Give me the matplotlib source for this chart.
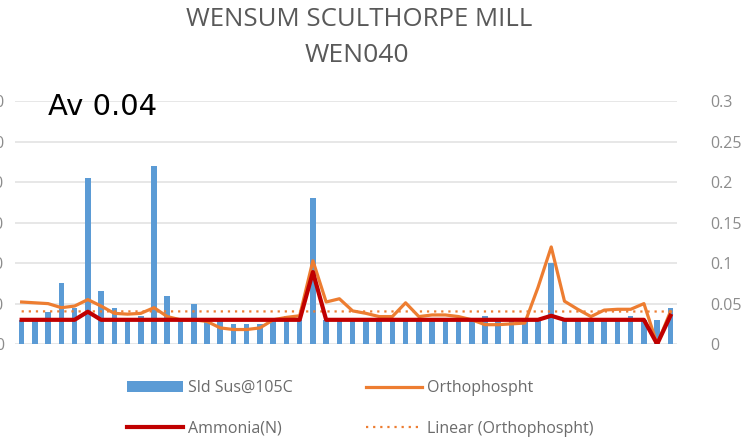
import numpy as np
import matplotlib
matplotlib.use('Agg')
import matplotlib.pyplot as plt

# sample index along the x axis (50 samples, no labels shown)
samples = np.arange(50)

# suspended solids @105C (left axis, mg/l)
sld_sus = [6, 6, 8, 15, 9, 41, 13, 9, 6, 7, 44, 12, 6, 10, 6, 6, 5, 5, 5, 6,
           7, 6, 36, 6, 6, 6, 6, 6, 6, 6, 6, 6, 6, 6, 6, 7, 6, 6, 6, 6,
           20, 6, 6, 6, 6, 6, 7, 6, 6, 9]

# orthophosphate (right axis, mg/l)
ortho = [0.052, 0.051, 0.050, 0.045, 0.047, 0.055, 0.047, 0.038, 0.037, 0.038,
         0.045, 0.034, 0.030, 0.030, 0.028, 0.020, 0.018, 0.018, 0.020, 0.030,
         0.033, 0.035, 0.103, 0.052, 0.056, 0.041, 0.038, 0.034, 0.034, 0.051,
         0.034, 0.036, 0.036, 0.034, 0.030, 0.024, 0.024, 0.025, 0.026, 0.070,
         0.120, 0.053, 0.043, 0.034, 0.042, 0.043, 0.043, 0.050, 0.0, 0.040]

# ammonia as N (right axis, mg/l)
ammonia = [0.03] * 50
ammonia[5] = 0.04
ammonia[22] = 0.089
ammonia[40] = 0.035
ammonia[48] = 0.0
ammonia[49] = 0.035

left_ticks = [0, 10, 20, 30, 40, 50, 60]
right_ticks = [0, 0.05, 0.1, 0.15, 0.2, 0.25, 0.3]
right_labels = ['0', '0.05', '0.1', '0.15', '0.2', '0.25', '0.3']

plt.rcParams['font.family'] = ['Open Sans', 'DejaVu Sans']

fig = plt.figure(figsize=(7.43, 4.44), dpi=100)
ax = fig.add_axes([0.0202, 0.225, 0.891, 0.547])
ax2 = ax.twinx()

ax.bar(samples, sld_sus, width=0.42, color='#5B9BD5', label='Sld Sus@105C', zorder=2)
ax.set_ylim(0, 60)
ax.set_yticks(left_ticks)
ax.set_xlim(-0.5, 49.5)
ax.set_xticks([])
ax.yaxis.grid(True, color='#E3E3E3', linewidth=1.2, zorder=0)
ax.set_axisbelow(True)
# left labels sit mostly outside the picture, as in the original crop
ax.tick_params(axis='y', length=0, pad=8, labelcolor='#8c8c8c', labelsize=11.5)

ax2.plot(samples, ortho, color='#ED7D31', linewidth=2.3, label='Orthophospht', zorder=3)
ax2.plot(samples, ammonia, color='#C00000', linewidth=3.0, label='Ammonia(N)', zorder=4)
fit = np.polyfit(samples, ortho, 1)
ax2.plot(samples, np.polyval(fit, samples), color='#ED7D31', linewidth=1.6,
         linestyle=(0, (1, 2.2)), label='Linear (Orthophospht)', zorder=3)
ax2.set_ylim(0, 0.3)
ax2.set_yticks(right_ticks)
ax2.set_yticklabels(right_labels)
ax2.tick_params(axis='y', length=0, pad=24, labelcolor='#8c8c8c', labelsize=11.5)

for a in (ax, ax2):
    for s in a.spines.values():
        s.set_visible(False)

fig.text(0.484, 0.957, 'WENSUM SCULTHORPE MILL', ha='center', va='center',
         fontsize=18.5, color='#595959')
fig.text(0.48, 0.874, 'WEN040', ha='center', va='center',
         fontsize=19, color='#595959')
fig.text(0.064, 0.76, 'Av 0.04', ha='left', va='center', fontsize=21,
         color='black', family=['DejaVu Sans'])

h1, l1 = ax.get_legend_handles_labels()
h2, l2 = ax2.get_legend_handles_labels()
handles = [h1[0], h2[1], h2[0], h2[2]]
labels = [l1[0], l2[1], l2[0], l2[2]]
fig.legend(handles, labels, ncol=2, loc='center', bbox_to_anchor=(0.485, 0.08),
           frameon=False, fontsize=11.5, labelcolor='#6b6b6b', handlelength=3.5,
           columnspacing=4.6, handletextpad=0.3, labelspacing=1.55)

fig.savefig('out.png', dpi=100)
